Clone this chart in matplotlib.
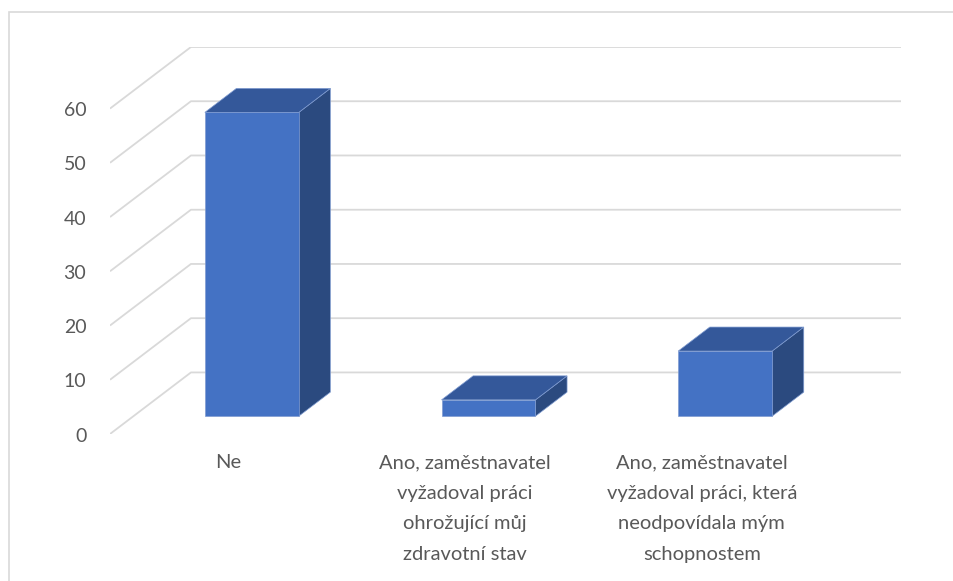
import matplotlib
matplotlib.use("Agg")
import matplotlib.pyplot as plt
from matplotlib.patches import Polygon, Rectangle

# data
categories = [
    "Ne",
    "Ano, zaměstnavatel\nvyžadoval práci\nohrožující můj\nzdravotní stav",
    "Ano, zaměstnavatel\nvyžadoval práci, která\nneodpovídala mým\nschopnostem",
]
values = [56, 3, 12]
yticks = [0, 10, 20, 30, 40, 50, 60]

# oblique 3d look: depth offset in data units (x in categories, y in values)
DX = 0.342
DY = 11.35
BAR_W = 0.397
Z0, Z1 = 0.29, 0.68

FRONT = "#4472C4"
TOP = "#34589A"
SIDE = "#2B4A7F"
GRID = "#d9d9d9"
TXT = "#595959"

plt.rcParams["font.family"] = ["Lato", "DejaVu Sans"]

fig = plt.figure(figsize=(9.54, 5.81), dpi=100)
W, H = 954, 581
# front plane: x 110..820, y 434 (0) .. 109 (60); back plane shifted by DX, DY
ax = fig.add_axes([110 / W, (H - 434) / H, (901 - 110) / W, (434 - 47) / H])
ax.set_xlim(0, len(categories) + DX)
ax.set_ylim(0, yticks[-1] + DY)
ax.axis("off")


def proj(x, v, d):
    return (x + d * DX, v + d * DY)


# gridlines: diagonal on the side wall + horizontal on the back wall
n = len(categories)
for t in yticks:
    ax.plot([0, DX, n + DX], [t, t + DY, t + DY], color=GRID, lw=1.3,
            zorder=1, solid_capstyle="butt")
    ax.text(-0.1, t - 0.4, str(t), ha="right", va="center", fontsize=14,
            color=TXT)

# bars
for i, v in enumerate(values):
    x0 = i + 0.5 - BAR_W / 2
    x1 = x0 + BAR_W
    front = [proj(x0, 0, Z0), proj(x1, 0, Z0), proj(x1, v, Z0), proj(x0, v, Z0)]
    top = [proj(x0, v, Z0), proj(x1, v, Z0), proj(x1, v, Z1), proj(x0, v, Z1)]
    side = [proj(x1, 0, Z0), proj(x1, 0, Z1), proj(x1, v, Z1), proj(x1, v, Z0)]
    for pts, c in [(side, SIDE), (top, TOP), (front, FRONT)]:
        ax.add_patch(Polygon(pts, closed=True, facecolor=c, edgecolor="#7f9bd0",
                             lw=0.5, zorder=3))

# category labels
for i, lab in enumerate(categories):
    ax.text(i + 0.5, -3.7, lab, ha="center", va="top", fontsize=14.5,
            color=TXT, linespacing=1.97, clip_on=False)

# chart border
fig.patches.append(Rectangle((9.5 / W, -0.05), 1.0, 1 - 12.5 / H + 0.05,
                             transform=fig.transFigure, fill=False,
                             edgecolor=GRID, lw=1.2))

fig.savefig("out.png", dpi=100)
